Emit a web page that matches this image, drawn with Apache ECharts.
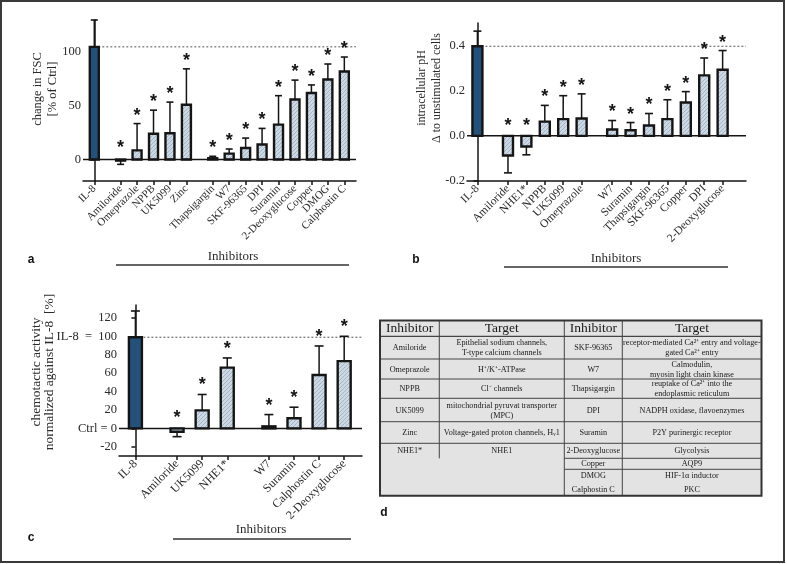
<!DOCTYPE html>
<html><head><meta charset="utf-8">
<script src="https://cdn.jsdelivr.net/npm/echarts@6/dist/echarts.min.js"></script>
<style>html,body{margin:0;padding:0;background:#fff}#c{width:787px;height:564px}</style>
</head><body><div id="c"></div>
<script>
// ---------- Panel a: change in FSC ----------
const aGroups = [
  ['IL-8'],
  ['Amiloride', 'Omeprazole', 'NPPB', 'UK5099', 'Zinc'],
  ['Thapsigargin', 'W7', 'SKF-96365', 'DPI', 'Suramin', '2-Deoxyglucose', 'Copper', 'DMOG', 'Calphostin C']
];
const aMean = [105, -1, 8.5, 24, 24.5, 51, 1.2, 5.5, 10.8, 14, 32.5, 56, 62, 74.5, 82];
const aSD   = [25, 3.5, 25, 22, 29, 33.5, 1.8, 4.3, 9.2, 15, 27, 18, 7.5, 14.5, 13.5];
const aSig  = [0, 1, 1, 1, 1, 1, 1, 1, 1, 1, 1, 1, 1, 1, 1];
const aTicks = [0, 50, 100];

// ---------- Panel b: intracellular pH ----------
const bGroups = [
  ['IL-8'],
  ['Amiloride', 'NHE1*', 'NPPB', 'UK5099', 'Omeprazole'],
  ['W7', 'Suramin', 'Thapsigargin', 'SKF-96365', 'Copper', 'DPI', '2-Deoxyglucose']
];
const bMean = [0.397, -0.087, -0.047, 0.063, 0.074, 0.077, 0.028, 0.025, 0.046, 0.074, 0.148, 0.268, 0.293];
const bSD   = [0.067, 0.077, 0.037, 0.072, 0.104, 0.109, 0.040, 0.034, 0.053, 0.086, 0.048, 0.077, 0.085];
const bSig  = [0, 1, 1, 1, 1, 1, 1, 1, 1, 1, 1, 1, 1];
const bTicks = [-0.2, 0, 0.2, 0.4];

// ---------- Panel c: chemotactic activity ----------
const cGroups = [
  ['IL-8'],
  ['Amiloride', 'UK5099', 'NHE1*'],
  ['W7', 'Suramin', 'Calphostin C', '2-Deoxyglucose']
];
const cMean = [99, -3.6, 19.5, 66, 2.2, 11, 58, 73];
const cSD   = [28.5, 5.4, 17.3, 10.5, 12.8, 12, 31.5, 27];
const cSig  = [0, 1, 1, 1, 1, 1, 1, 1];
const cTicks = [-20, 0, 20, 40, 60, 80, 100, 120];

// ---------- Panel d: table ----------
const tblHeader = ['Inhibitor', 'Target', 'Inhibitor', 'Target'];
const tblLeft = [
  ['Amiloride', 'Epithelial sodium channels,\nT-type calcium channels'],
  ['Omeprazole', 'H\u207A/K\u207A-ATPase'],
  ['NPPB', 'Cl\u207B channels'],
  ['UK5099', 'mitochondrial pyruvat transporter\n(MPC)'],
  ['Zinc', 'Voltage-gated proton channels, H\u1D651'],
  ['NHE1*', 'NHE1']
];
const tblRight = [
  ['SKF-96365', 'receptor-mediated Ca\u00B2\u207A entry and voltage-\ngated Ca\u00B2\u207A entry'],
  ['W7', 'Calmodulin,\nmyosin light chain kinase'],
  ['Thapsigargin', 'reuptake of Ca\u00B2\u207A into the\nendoplasmic reticulum'],
  ['DPI', 'NADPH oxidase, flavoenzymes'],
  ['Suramin', 'P2Y purinergic receptor'],
  ['2-Deoxyglucose', 'Glycolysis'],
  ['Copper', 'AQP9'],
  ['DMOG', 'HIF-1\u03B1 inductor'],
  ['Calphostin C', 'PKC']
];

// ---------- layout helpers ----------
function positions(groups, gap) {
  const p = []; let x = 0;
  groups.forEach((g, gi) => { if (gi > 0) x += gap - 1; g.forEach(() => { p.push(x); x += 1; }); });
  return p;
}
const flat = g => g.reduce((a, b) => a.concat(b), []);
const aPos = positions(aGroups, 1.6), bPos = positions(bGroups, 1.66), cPos = positions(cGroups, 1.66);
const aNames = flat(aGroups), bNames = flat(bGroups), cNames = flat(cGroups);

const SERIF = 'Liberation Serif';
const INK = '#151515';

// hatch pattern
const pc = document.createElement('canvas'); pc.width = 4; pc.height = 4;
const g2 = pc.getContext('2d');
g2.fillStyle = '#ccd8e4'; g2.fillRect(0, 0, 4, 4);
g2.strokeStyle = '#a5b5c6'; g2.lineWidth = 1;
g2.beginPath(); g2.moveTo(0, 4); g2.lineTo(4, 0); g2.stroke();
const hatch = { image: pc, repeat: 'repeat' };

function nameAt(pos, names) {
  return v => { const i = pos.findIndex(p => Math.abs(p - v) < 1e-6); return i >= 0 ? names[i] : ''; };
}

function xAxis(idx, pos, names, min, max, fs) {
  return {
    type: 'value', gridIndex: idx, min, max,
    axisLine: { onZero: false, lineStyle: { color: INK, width: 1.5 } },
    axisTick: { customValues: pos, length: 4, lineStyle: { color: INK, width: 1.5 } },
    axisLabel: { customValues: pos, rotate: 45, formatter: nameAt(pos, names), fontFamily: SERIF, fontSize: fs, color: '#2a2a2a', margin: 6 },
    splitLine: { show: false }
  };
}
function yAxis(idx, ticks, min, max, fmt, fs) {
  return {
    type: 'value', gridIndex: idx, min, max,
    axisLine: { show: true, lineStyle: { color: INK, width: 1.5 } },
    axisTick: { show: true, customValues: ticks, length: 4, lineStyle: { color: INK, width: 1.5 } },
    axisLabel: { customValues: ticks, formatter: fmt, fontFamily: SERIF, fontSize: fs, color: '#2a2a2a', margin: 2 },
    splitLine: { show: false }
  };
}

function barSeries(idx, pos, mean, sd, sig, o) {
  return {
    type: 'custom', xAxisIndex: idx, yAxisIndex: idx, z: 3, clip: false,
    data: mean.map((m, i) => [pos[i], m, sd[i], sig[i], i === 0 ? 1 : 0]),
    encode: { x: 0, y: 1 },
    renderItem(params, api) {
      const x = api.value(0), m = api.value(1), s = api.value(2), sg = api.value(3), first = api.value(4);
      const p0 = api.coord([x, 0]), p1 = api.coord([x, m]);
      const end = m >= 0 ? m + s : m - s;
      const pe = api.coord([x, end]);
      const w = o.barW, cap = o.cap;
      const top = Math.min(p0[1], p1[1]), h = Math.max(Math.abs(p1[1] - p0[1]), 1);
      const ch = [
        { type: 'line', shape: { x1: p1[0], y1: p1[1], x2: pe[0], y2: pe[1] }, style: { stroke: INK, lineWidth: 1.5 } },
        { type: 'line', shape: { x1: pe[0] - cap / 2, y1: pe[1], x2: pe[0] + cap / 2, y2: pe[1] }, style: { stroke: INK, lineWidth: 1.6 } },
        { type: 'rect', shape: { x: p0[0] - w / 2, y: top, width: w, height: h },
          style: { fill: first ? '#24507a' : hatch, stroke: INK, lineWidth: 2.4 } }
      ];
      if (sg) {
        const yt = (m >= 0 ? pe[1] - o.star : p0[1] - o.starNeg);
        ch.push({ type: 'text', x: p0[0], y: yt + 4,
          style: { text: '*', fontFamily: 'Liberation Sans', fontWeight: 'bold', fontSize: 18, fill: INK, align: 'center', verticalAlign: 'middle' } });
      }
      return { type: 'group', children: ch };
    }
  };
}
function hLine(idx, y, x0, x1, dotted) {
  return {
    type: 'line', xAxisIndex: idx, yAxisIndex: idx, z: dotted ? 2 : 4, symbol: 'none', silent: true,
    data: [[x0, y], [x1, y]],
    lineStyle: dotted ? { color: '#555', width: 1, type: [2, 2] } : { color: INK, width: 1.5 }
  };
}

const aMin = -0.687, aMax = 15.91, bMin = -0.566, bMax = 14.59, cMin = -0.654, cMax = 9.03;

// ---------- graphics: titles, labels, table ----------
const G = [];
G.push({ type: 'rect', shape: { x: 1, y: 1, width: 783, height: 561 }, style: { fill: 'none', stroke: '#3a3a3a', lineWidth: 2 }, z: 100 });
function rotText(x, y, txt, fs, lh) {
  G.push({ type: 'text', x, y, rotation: Math.PI / 2,
    style: { text: txt, fontFamily: SERIF, fontSize: fs, lineHeight: lh, fill: '#2a2a2a', align: 'center', verticalAlign: 'middle' } });
}
rotText(45, 89, 'change in FSC\n[% of Ctrl]', 12.5, 15);
rotText(429, 88, 'intracellular pH\n\u0394 to unstimulated cells', 12, 15);
rotText(43, 372, 'chemotactic activity\nnormalized against IL-8  [%]', 13.5, 13);
function letter(x, y, t) {
  G.push({ type: 'text', x, y, style: { text: t, fontFamily: 'Liberation Sans', fontWeight: 'bold', fontSize: 12, fill: '#111', align: 'center', verticalAlign: 'middle' } });
}
letter(31, 260, 'a'); letter(416, 260, 'b'); letter(31, 538, 'c'); letter(384, 513, 'd');
function inhib(cx, ty, ly, x0, x1) {
  G.push({ type: 'text', x: cx, y: ty, style: { text: 'Inhibitors', fontFamily: SERIF, fontSize: 13, fill: '#2a2a2a', align: 'center', verticalAlign: 'middle' } });
  G.push({ type: 'line', shape: { x1: x0, y1: ly, x2: x1, y2: ly }, style: { stroke: '#333', lineWidth: 1.5 } });
}
inhib(233, 257, 265, 116, 349);
inhib(616, 259, 267, 504, 728);
inhib(261, 530, 539, 173, 351);

// table
const colX = [380, 439.3, 564.3, 622.3, 761.5];
const rowH = [15.8, 22.7, 20, 19.3, 23.4, 21.6, 15, 11, 13, 13.4];
const tTop = 320.5;
const rowY = [tTop]; rowH.forEach(h => rowY.push(rowY[rowY.length - 1] + h));
const tBot = rowY[rowY.length - 1];
G.push({ type: 'rect', shape: { x: colX[0], y: tTop, width: colX[4] - colX[0], height: tBot - tTop }, style: { fill: '#e3e3e3', stroke: 'none' } });
const LC = '#444';
function tl(x1, y1, x2, y2, w) { G.push({ type: 'line', shape: { x1, y1, x2, y2 }, style: { stroke: LC, lineWidth: w || 1 } }); }
for (let r = 1; r <= 6; r++) tl(colX[0], rowY[r], colX[4], rowY[r], r === 1 ? 1.2 : 1);
for (let r = 7; r <= 8; r++) tl(colX[2], rowY[r], colX[4], rowY[r]);
tl(colX[1], tTop, colX[1], rowY[7]);
tl(colX[2], tTop, colX[2], tBot);
tl(colX[3], tTop, colX[3], tBot);
G.push({ type: 'rect', shape: { x: colX[0], y: tTop, width: colX[4] - colX[0], height: tBot - tTop }, style: { fill: 'none', stroke: '#333', lineWidth: 2 } });
function cell(c, r, txt, fs, lh) {
  G.push({ type: 'text', x: (colX[c] + colX[c + 1]) / 2, y: (rowY[r] + rowY[r + 1]) / 2 + 0.5,
    style: { text: txt, fontFamily: SERIF, fontSize: fs, lineHeight: lh, fill: '#1a1a1a', align: 'center', verticalAlign: 'middle' } });
}
tblHeader.forEach((h, i) => cell(i, 0, h, 13.5, 15));
tblLeft.forEach((row, i) => { cell(0, i + 1, row[0], 8.2, 10); cell(1, i + 1, row[1], 8.2, 10); });
tblRight.forEach((row, i) => { cell(2, i + 1, row[0], 8.2, 10); cell(3, i + 1, row[1], 8.2, 10); });

const option = {
  animation: false,
  backgroundColor: '#fff',
  grid: [
    { left: 83, top: 20, width: 273, height: 161 },
    { left: 467, top: 23, width: 279, height: 158 },
    { left: 119, top: 305, width: 243, height: 151 }
  ],
  xAxis: [
    xAxis(0, aPos, aNames, aMin, aMax, 11),
    xAxis(1, bPos, bNames, bMin, bMax, 11.5),
    xAxis(2, cPos, cNames, cMin, cMax, 12)
  ],
  yAxis: [
    yAxis(0, aTicks, -20, 130, v => String(v), 12.5),
    yAxis(1, bTicks, -0.2, 0.5, v => v.toFixed(1), 12.5),
    yAxis(2, cTicks, -30, 134, v => v === 100 ? 'IL-8  =  100' : (v === 0 ? 'Ctrl = 0' : String(v)), 12.5)
  ],
  series: [
    hLine(0, aMean[0], aPos[0], aMax, true),
    hLine(0, 0, aMin, aMax, false),
    barSeries(0, aPos, aMean, aSD, aSig, { barW: 9, cap: 7, star: 12, starNeg: 16 }),
    hLine(1, bMean[0], bPos[0], bMax, true),
    hLine(1, 0, bMin, bMax, false),
    barSeries(1, bPos, bMean, bSD, bSig, { barW: 10, cap: 8, star: 12, starNeg: 14 }),
    hLine(2, cMean[0], cPos[0], cMax, true),
    hLine(2, 0, cMin, cMax, false),
    barSeries(2, cPos, cMean, cSD, cSig, { barW: 13, cap: 9, star: 13, starNeg: 14 })
  ],
  graphic: G
};
const chart = echarts.init(document.getElementById('c'), null, { renderer: 'canvas' });
chart.setOption(option);
</script></body></html>
